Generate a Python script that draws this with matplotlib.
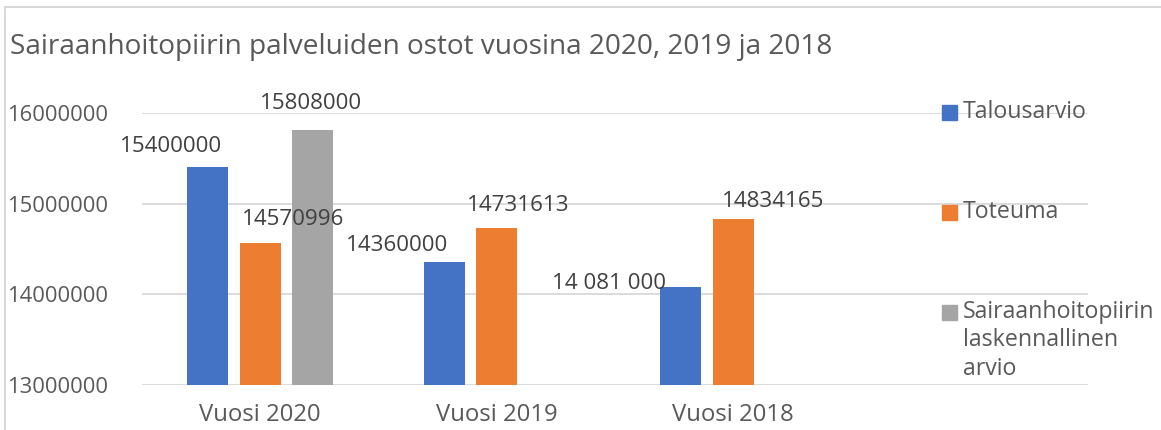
import numpy as np
import matplotlib
matplotlib.use("Agg")
import matplotlib.pyplot as plt
from matplotlib.patches import Rectangle

# Tiedot kuvasta
vuodet = ["Vuosi 2020", "Vuosi 2019", "Vuosi 2018", ""]
talousarvio = [15400000, 14360000, 14081000, np.nan]
toteuma = [14570996, 14731613, 14834165, np.nan]
laskennallinen = [15808000, np.nan, np.nan, np.nan]
sarjat = ["Talousarvio", "Toteuma", "Sairaanhoitopiirin\nlaskennallinen\narvio"]
varit = ["#4472C4", "#ED7D31", "#A5A5A5"]
label_teksti = {(0, 0): "15400000", (0, 1): "14360000", (0, 2): "14 081 000",
                (1, 0): "14570996", (1, 1): "14731613", (1, 2): "14834165",
                (2, 0): "15808000"}
# siirrot (pikseleinä) käsin siirretyille arvoille
label_siirto = {(0, 0): (-37, 21), (0, 1): (-47, 16), (0, 2): (-72, 3),
                (1, 0): (33, 23), (1, 1): (22, 23), (1, 2): (40, 17),
                (2, 0): (-2, 27)}

plt.rcParams['font.family'] = ['Open Sans', 'DejaVu Sans']
teksti_vari = "#595959"
grid_vari = "#D9D9D9"

fig = plt.figure(figsize=(11.61, 4.30), dpi=100)
ax = fig.add_axes([142/1161, 45/430, 946/1161, 272/430])

x = np.arange(len(vuodet))
leveys = 0.175
vali = 0.222
for i, arvot in enumerate([talousarvio, toteuma, laskennallinen]):
    pos = x + (i - 1) * vali
    ax.bar(pos, np.array(arvot) - 13000000, bottom=13000000, width=leveys,
           color=varit[i], zorder=3)
    for j, v in enumerate(arvot):
        if np.isnan(v):
            continue
        dx, dy = label_siirto[(i, j)]
        ax.annotate(label_teksti[(i, j)], xy=(pos[j], v), xytext=(dx, dy),
                    textcoords='offset pixels', ha='center', va='center',
                    fontsize=16.1, color="#404040", zorder=4)

ax.set_xlim(-0.5, len(vuodet) - 0.5)
ax.set_ylim(13000000, 16000000)
ax.set_yticks(np.arange(13000000, 16000001, 1000000))
ax.yaxis.set_major_formatter(matplotlib.ticker.FuncFormatter(lambda v, p: f"{int(v)}"))
ax.set_xticks(x)
ax.set_xticklabels(vuodet)
ax.grid(axis='y', color=grid_vari, lw=1.3, zorder=0)
for s in ax.spines.values():
    s.set_visible(False)
ax.tick_params(length=0, labelcolor=teksti_vari)
ax.tick_params(axis='y', pad=24.5, labelsize=15.8)
ax.tick_params(axis='x', pad=13, labelsize=17.2)

fig.text(10/1161, 1 - 47/430, "Sairaanhoitopiirin palveluiden ostot vuosina 2020, 2019 ja 2018",
         fontsize=20.2, color=teksti_vari, va='center', ha='left')

# selite
selite_y = [112, 212, 312]
for nimi, vari, yy in zip(sarjat, varit, selite_y):
    fig.patches.append(Rectangle((942/1161, 1 - (yy + 7.5)/430), 15/1161, 15/430,
                                 transform=fig.transFigure, color=vari, zorder=5))
    fig.text(963/1161, 1 - (yy - 12)/430, nimi, fontsize=16.7, color=teksti_vari,
             va='top', ha='left', linespacing=1.25, zorder=5)

# kaavion reunus
fig.patches.append(Rectangle((5/1161, -0.1), 1.2, 1 - 7/430 + 0.1, transform=fig.transFigure,
                             fill=False, edgecolor=grid_vari, lw=1.5))

fig.savefig("out.png", dpi=100, facecolor="white")
